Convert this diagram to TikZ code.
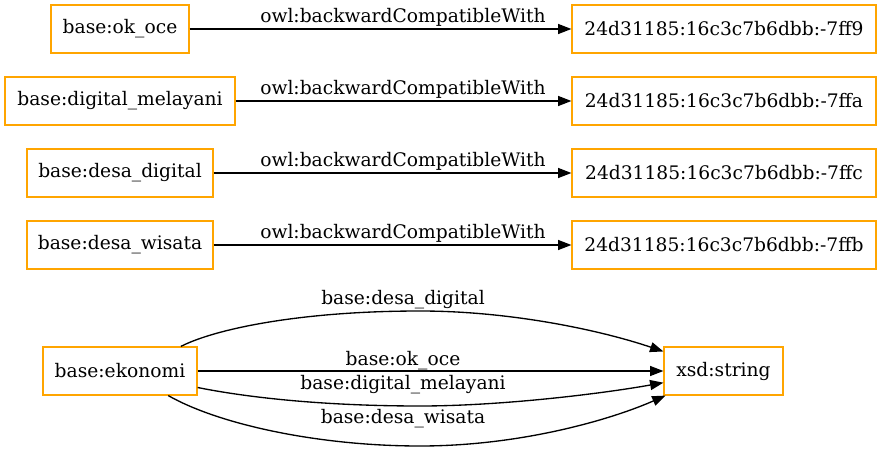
\documentclass[tikz,border=0pt]{standalone}
\usepackage{fontspec}
\setmainfont{DejaVu Serif}
\usetikzlibrary{arrows.meta}
\definecolor{boxorange}{HTML}{FFA500}
\begin{document}
\begin{tikzpicture}[x=0.75pt,y=-0.75pt,
  every node/.style={font=\fontsize{14pt}{16pt}\selectfont},
  ent/.style={draw=boxorange, line width=0.9pt, fill=white, minimum height=36pt, inner sep=0pt},
  lbl/.style={inner sep=0pt},
  conn/.style={-{Triangle[length=10pt,width=7.5pt]}, line width=1pt, black}]
\useasboundingbox (0,0) rectangle (881,452);
% left column
\node[ent, minimum width=103.5pt] (ok) at (120,29) {base:ok\_oce};
\node[ent, minimum width=172.5pt] (dm) at (120,101) {base:digital\_melayani};
\node[ent, minimum width=139.5pt] (dd) at (120,173) {base:desa\_digital};
\node[ent, minimum width=139.5pt] (dw) at (120,245) {base:desa\_wisata};
\node[ent, minimum width=115.5pt] (ek) at (120,371) {base:ekonomi};
% right column
\node[ent, minimum width=228pt] (r1) at (724,29) {24d31185:16c3c7b6dbb:-7ff9};
\node[ent, minimum width=228pt] (r2) at (724,101) {24d31185:16c3c7b6dbb:-7ffa};
\node[ent, minimum width=228pt] (r3) at (724,173) {24d31185:16c3c7b6dbb:-7ffc};
\node[ent, minimum width=228pt] (r4) at (724,245) {24d31185:16c3c7b6dbb:-7ffb};
\node[ent, minimum width=89.25pt] (xs) at (723.5,371) {xsd:string};
% top connectors
\draw[conn] (ok) -- (r1);
\draw[conn] (dm) -- (r2);
\draw[conn] (dd) -- (r3);
\draw[conn] (dw) -- (r4);
\node[lbl] (l1) at (403,17) {owl:backwardCompatibleWith};
\node[lbl] (l2) at (403,89) {owl:backwardCompatibleWith};
\node[lbl] (l3) at (403,161) {owl:backwardCompatibleWith};
\node[lbl] (l4) at (403,233) {owl:backwardCompatibleWith};
% bottom connectors
\draw[conn] (ek.22) .. controls (215,329) and (300,311) .. (420,311)
  .. controls (510,311) and (600,330) .. (xs.162);
\draw[conn] (ek) -- (xs);
\draw[conn] (ek.-12) .. controls (260,400) and (340,406) .. (420,406)
  .. controls (500,406) and (600,394) .. (xs.191);
\draw[conn] (ek.-27) .. controls (220,425) and (320,446) .. (420,446)
  .. controls (520,446) and (610,420) .. (xs.203);
\node[lbl] (b1) at (403,300) {base:desa\_digital};
\node[lbl] (b2) at (403,361) {base:ok\_oce};
\node[lbl] (b3) at (403,385) {base:digital\_melayani};
\node[lbl] (b4) at (403,419) {base:desa\_wisata};
\end{tikzpicture}
\end{document}
